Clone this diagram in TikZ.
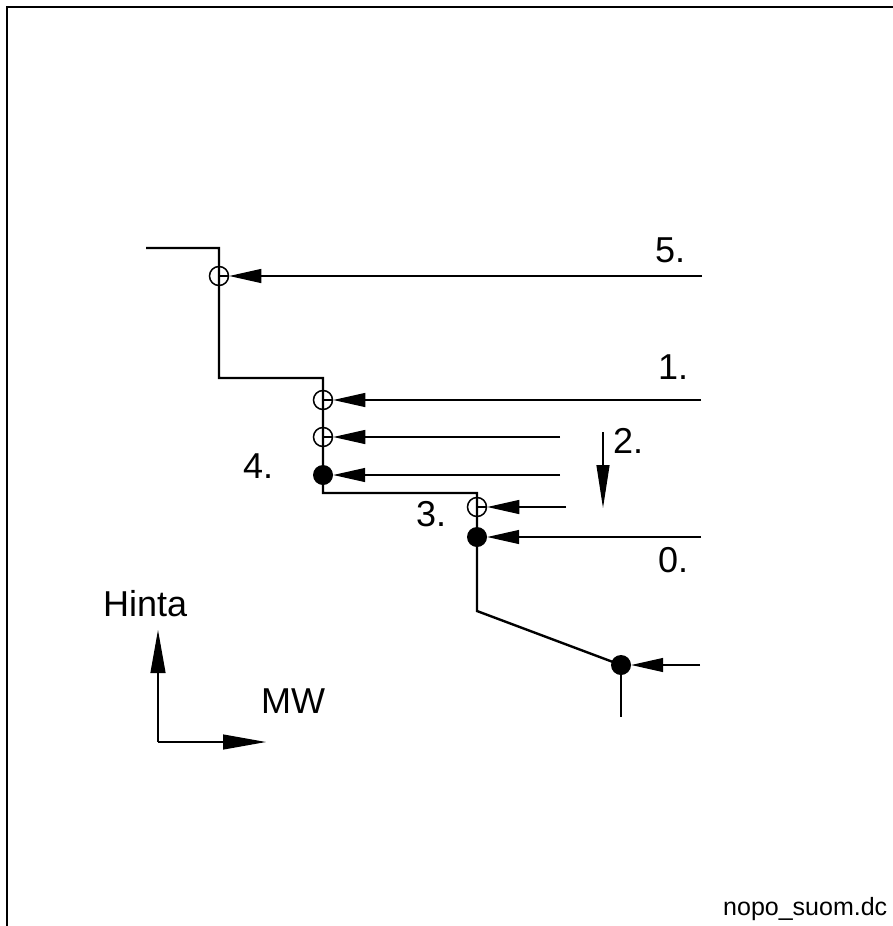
\documentclass[tikz,border=0pt]{standalone}
\usepackage{fontspec}
\setmainfont{Liberation Sans}
\usetikzlibrary{arrows.meta}
\tikzset{
  stair/.style={line width=2.4pt, line join=miter},
  thinl/.style={line width=1.2pt},
  ptr/.style={thinl, -{Triangle[length=32pt,width=14pt]}},
  axarr/.style={thinl, -{Triangle[length=43pt,width=15pt]}},
  opencirc/.style={circle, draw, line width=1.5pt, minimum size=19pt, inner sep=0pt},
  dotc/.style={circle, fill, minimum size=20pt, inner sep=0pt},
  lbl/.style={anchor=base west, inner sep=0pt, font=\fontsize{36}{40}\selectfont},
  small/.style={anchor=base west, inner sep=0pt, font=\fontsize{25}{28}\selectfont}
}
\begin{document}
\begin{tikzpicture}[x=1pt,y=-1pt]
\useasboundingbox (0,0) rectangle (892,926);
% frame
\draw[line width=2.5pt] (900,7) -- (7,7) -- (7,935);
% staircase
\coordinate (s0) at (146,248);
\coordinate (s1) at (219,248);
\coordinate (s2) at (219,378);
\coordinate (s3) at (323,378);
\coordinate (s4) at (323,493);
\coordinate (s5) at (477,493);
\coordinate (s6) at (477,611);
\coordinate (s7) at (621,665);
\draw[stair] (s0) -- (s1) -- (s2) -- (s3) -- (s4) -- (s5) -- (s6) -- (s7);
% vertical through last point
\coordinate (vt) at (621,655);
\coordinate (vb) at (621,717);
\draw[line width=1.6pt] (vt) -- (vb);
% points
\node[opencirc] (c5) at (219,276) {};
\node[opencirc] (c1) at (323,400) {};
\node[opencirc] (c2) at (323,437) {};
\node[dotc] (d4) at (323,475) {};
\node[opencirc] (c3) at (477,507) {};
\node[dotc] (d0) at (477,537) {};
\node[dotc] (dx) at (621,665) {};
% inner ticks of open circles
\foreach \n in {c5,c1,c2,c3} \draw[thinl] (\n.center) -- (\n.east);
% free ends of arrows
\coordinate (e5) at (702,276);
\coordinate (e1) at (701,400);
\coordinate (e2) at (560,437);
\coordinate (e4) at (560,475);
\coordinate (e3) at (566,507);
\coordinate (e0) at (701,537);
\coordinate (ex) at (700,665);
\draw[ptr] (e5) -- (c5);
\draw[ptr] (e1) -- (c1);
\draw[ptr] (e2) -- (c2);
\draw[ptr] (e4) -- (d4);
\draw[ptr] (e3) -- (c3);
\draw[ptr] (e0) -- (d0);
\draw[ptr] (ex) -- (dx);
% step 2 arrow
\coordinate (a2t) at (603,432);
\coordinate (a2b) at (603,508);
\draw[thinl, -{Triangle[length=43pt,width=13pt]}] (a2t) -- (a2b);
% axes
\coordinate (o) at (158,742);
\coordinate (ay) at (158,630);
\coordinate (ax) at (266,742);
\draw[axarr] (o) -- (ay);
\draw[axarr] (o) -- (ax);
% labels
\node[lbl] (l5) at (655,262) {5.};
\node[lbl] (l1) at (658,379) {1.};
\node[lbl] (l2) at (613,453) {2.};
\node[lbl] (l3) at (416,526) {3.};
\node[lbl] (l0) at (658,572) {0.};
\node[lbl] (l4) at (243,478) {4.};
\node[lbl] (hinta) at (103,616) {Hinta};
\node[lbl] (mw) at (261,713) {MW};
\node[small] (fn) at (723,915) {nopo\_suom.dc};
\end{tikzpicture}
\end{document}
